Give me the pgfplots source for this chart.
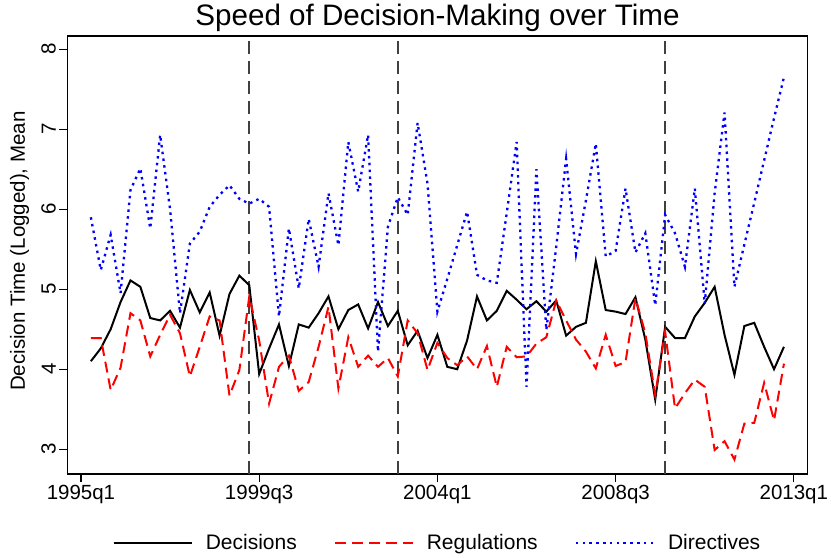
\documentclass[border=0pt]{standalone}
\usepackage{pgfplots}
\usepackage{pgfplotstable}
\pgfplotsset{compat=1.18}
\usepackage{fontspec}
\setmainfont{Liberation Sans}

% quarter index: 0 = 1995q1
\pgfplotstableread{
q  dec  reg  dir
1  4.10 4.39 5.90
2  4.26 4.39 5.24
3  4.50 3.74 5.68
4  4.84 4.02 4.95
5  5.11 4.70 6.24
6  5.03 4.61 6.51
7  4.64 4.16 5.76
8  4.61 4.43 6.93
9  4.73 4.68 6.00
10 4.52 4.45 4.70
11 4.99 3.91 5.57
12 4.71 4.28 5.72
13 4.96 4.66 6.03
14 4.42 4.61 6.18
15 4.94 3.67 6.30
16 5.17 3.99 6.13
17 5.05 4.91 6.07
18 3.94 4.36 6.13
19 4.26 3.57 6.03
20 4.56 4.03 4.66
21 4.04 4.17 5.76
22 4.56 3.73 5.01
23 4.52 3.84 5.88
24 4.70 4.28 5.28
25 4.91 4.78 6.20
26 4.50 3.76 5.55
27 4.74 4.40 6.84
28 4.81 4.03 6.22
29 4.51 4.17 6.93
30 4.84 4.03 4.22
31 4.54 4.14 5.78
32 4.73 3.91 6.15
33 4.30 4.61 5.93
34 4.48 4.45 7.08
35 4.14 3.99 6.32
36 4.43 4.33 4.72
37 4.03 4.14 5.13
38 4.00 4.05 5.55
39 4.36 4.16 5.97
40 4.91 4.00 5.18
41 4.61 4.29 5.11
42 4.73 3.78 5.08
43 4.98 4.28 5.95
44 4.87 4.15 6.84
45 4.75 4.16 3.78
46 4.85 4.32 6.50
47 4.72 4.40 4.49
48 4.86 4.86 5.53
49 4.42 4.61 6.63
50 4.53 4.37 5.44
51 4.58 4.22 6.11
52 5.35 4.01 6.82
53 4.74 4.43 5.41
54 4.72 4.04 5.48
55 4.69 4.09 6.26
56 4.90 4.89 5.46
57 4.37 4.45 5.70
58 3.62 3.68 4.80
59 4.53 4.47 5.93
60 4.39 3.51 5.70
61 4.39 3.70 5.28
62 4.66 3.87 6.26
63 4.83 3.78 4.82
64 5.03 2.99 6.20
65 4.43 3.10 7.21
66 3.93 2.87 5.03
67 4.54 3.32 5.56
68 4.58 3.33 6.08
69 4.28 3.83 6.61
70 4.00 3.36 7.14
71 4.28 4.07 7.65
}\speed

\begin{document}
\begin{tikzpicture}
\begin{axis}[
  scale only axis, width=740.4bp, height=438bp,
  xmin=-1.38, xmax=73.4, ymin=2.69, ymax=8.166,
  xtick={0,18,36,54,72},
  xticklabels={1995q1,1999q3,2004q1,2008q3,2013q1},
  ytick={3,4,5,6,7,8},
  xtick pos=lower, ytick pos=left,
  tick align=outside, major tick length=8bp,
  tick style={line width=1.2bp, black},
  axis line style={line width=1.2bp},
  /pgf/number format/assume math mode=true,
  tick label style={font=\fontsize{20.5bp}{24bp}\selectfont},
  yticklabel style={rotate=90, anchor=south},
  title={Speed of Decision-Making over Time},
  title style={font=\fontsize{29.6bp}{33bp}\selectfont, at={(axis description cs:0.5,1)}, anchor=base, yshift=4.9bp},
  ylabel={Decision Time (Logged), Mean},
  ylabel style={font=\fontsize{20.5bp}{24bp}\selectfont, at={(axis description cs:-0.0646,0.509)}, anchor=center},
  legend columns=3,
  legend style={at={(axis description cs:0.5,-0.1575)}, anchor=center, draw=none,
    font=\fontsize{21bp}{24bp}\selectfont,
    /tikz/every odd column/.append style={column sep=11bp},
    /tikz/every even column/.append style={column sep=35bp}},
  legend image code/.code={\draw[#1] (0bp,0bp) -- (78bp,0bp);},
]
\addplot[forget plot, line width=2bp, color=black!75, dash pattern=on 13bp off 7bp] coordinates {(17,2.69) (17,8.166)};
\addplot[forget plot, line width=2bp, color=black!75, dash pattern=on 13bp off 7bp] coordinates {(32,2.69) (32,8.166)};
\addplot[forget plot, line width=2bp, color=black!75, dash pattern=on 13bp off 7bp] coordinates {(59,2.69) (59,8.166)};
\addplot[black, line width=2bp] table[x=q, y=dec] {\speed};
\addlegendentry{Decisions}
\addplot[red, line width=2bp, dash pattern=on 11bp off 6bp] table[x=q, y=reg] {\speed};
\addlegendentry{Regulations}
\addplot[blue, line width=2.3bp, dash pattern=on 2.5bp off 4.3bp] table[x=q, y=dir] {\speed};
\addlegendentry{Directives}
\end{axis}
\pgfresetboundingbox
\path (current axis.south west) ++(-67.3bp,-84bp) rectangle ++(831bp,558bp);
\end{tikzpicture}
\end{document}
